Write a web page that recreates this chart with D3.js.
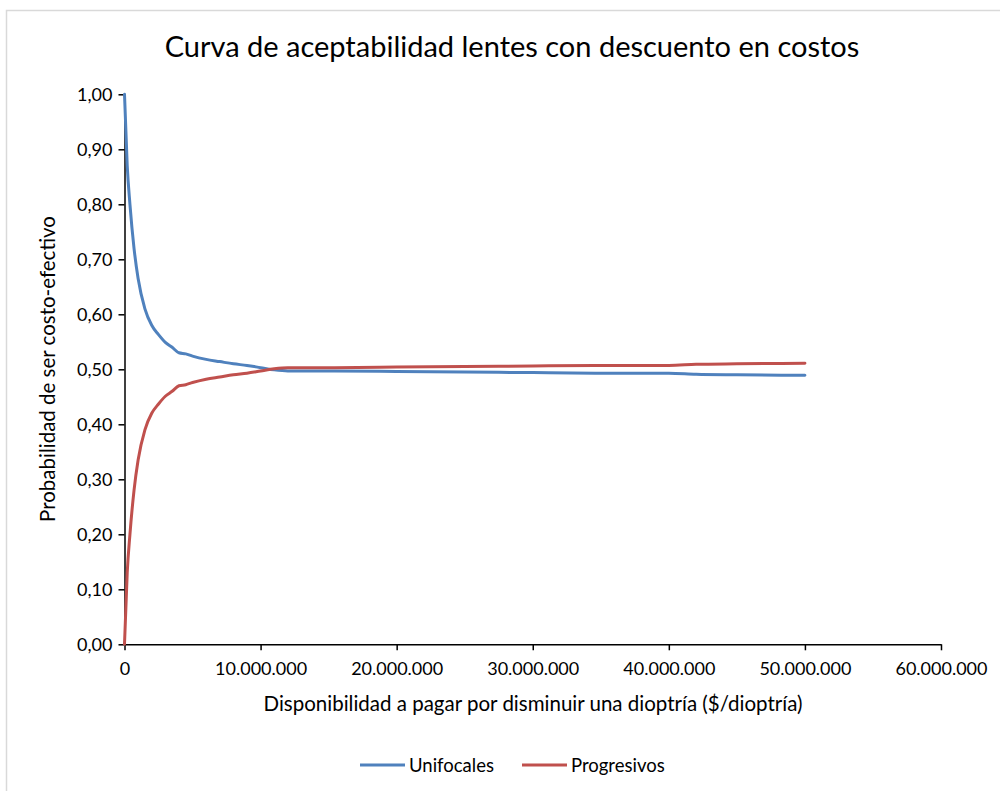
<!DOCTYPE html>
<html>
<head>
<meta charset="utf-8">
<script src="https://cdn.jsdelivr.net/npm/d3@7"></script>
<style>
  body { margin: 0; background: #fff; }
  text { font-family: Lato, "Open Sans", sans-serif; fill: #000; }
</style>
</head>
<body>
<svg id="chart" width="1000" height="791"></svg>
<script>
// datos (disponibilidad a pagar en $/dioptría)
var wtp = [0, 200000, 400000, 700000, 1000000, 1500000, 2000000, 2500000, 3000000, 3500000,
           4000000, 4500000, 5000000, 6000000, 7000000, 8000000, 9000000, 10000000, 11000000,
           12000000, 15000000, 20000000, 25000000, 30000000, 35000000, 40000000, 42000000,
           45000000, 50000000];
var unifocales = [1.000, 0.870, 0.800, 0.720, 0.665, 0.610, 0.580, 0.563, 0.549, 0.540,
                  0.530, 0.528, 0.524, 0.518, 0.514, 0.510, 0.507, 0.503, 0.499,
                  0.497, 0.497, 0.496, 0.495, 0.494, 0.493, 0.493, 0.491,
                  0.490, 0.489];
var progresivos = [0.000, 0.130, 0.200, 0.280, 0.335, 0.390, 0.420, 0.437, 0.451, 0.460,
                   0.470, 0.472, 0.476, 0.482, 0.486, 0.490, 0.493, 0.497, 0.501,
                   0.503, 0.503, 0.504, 0.505, 0.506, 0.507, 0.507, 0.509,
                   0.510, 0.511];
var seriesNames = ['Unifocales', 'Progresivos'];
var seriesColors = ['#4F81BD', '#C0504D'];
var xTicks = [0, 10000000, 20000000, 30000000, 40000000, 50000000, 60000000];
var yTicks = [0, 0.1, 0.2, 0.3, 0.4, 0.5, 0.6, 0.7, 0.8, 0.9, 1.0];

var svg = d3.select('#chart');

// marco del gráfico
svg.append('rect')
    .attr('x', 6.5).attr('y', 10.5)
    .attr('width', 1100).attr('height', 900)
    .attr('fill', '#fff').attr('stroke', '#d9d9d9').attr('stroke-width', 1.5);

var plotLeft = 124.5, plotRight = 941, plotTop = 94.3, plotBottom = 644.3;

var x = d3.scaleLinear().domain([0, 60000000]).range([plotLeft, plotRight]);
var y = d3.scaleLinear().domain([0, 1]).range([plotBottom, plotTop]);

// formato con puntos de miles y coma decimal
var es = d3.formatLocale({decimal: ',', thousands: '.', grouping: [3], currency: ['$', '']});
var fmtX = es.format(',.0f');
var fmtY = es.format('.2f');

// ejes
var gx = svg.append('g')
    .attr('transform', 'translate(0,' + plotBottom + ')')
    .call(d3.axisBottom(x).tickValues(xTicks).tickFormat(fmtX).tickSize(6).tickSizeOuter(0));
var gy = svg.append('g')
    .attr('transform', 'translate(' + plotLeft + ',0)')
    .call(d3.axisLeft(y).tickValues(yTicks).tickFormat(fmtY).tickSize(6).tickSizeOuter(0));

[gx, gy].forEach(function(g) {
    g.select('.domain').attr('stroke', '#000').attr('stroke-width', 1.5);
    g.selectAll('.tick line').attr('stroke', '#000').attr('stroke-width', 1.5);
    g.selectAll('.tick text').style('font-size', '18px').attr('fill', '#000');
});
gx.selectAll('.tick text').attr('dy', '1.2em');
gy.selectAll('.tick text').attr('x', -12);

// líneas
var line = d3.line()
    .x(function(d) { return x(d[0]); })
    .y(function(d) { return y(d[1]); })
    .curve(d3.curveMonotoneX);

[unifocales, progresivos].forEach(function(vals, i) {
    svg.append('path')
        .datum(wtp.map(function(w, j) { return [w, vals[j]]; }))
        .attr('fill', 'none')
        .attr('stroke', seriesColors[i])
        .attr('stroke-width', 3)
        .attr('stroke-linejoin', 'round')
        .attr('stroke-linecap', 'round')
        .attr('d', line);
});

// títulos
svg.append('text')
    .attr('x', 512).attr('y', 57)
    .attr('text-anchor', 'middle')
    .style('font-size', '29px')
    .text('Curva de aceptabilidad lentes con descuento en costos');

svg.append('text')
    .attr('x', 533).attr('y', 711)
    .attr('text-anchor', 'middle')
    .style('font-size', '20.5px')
    .text('Disponibilidad a pagar por disminuir una dioptría ($/dioptría)');

svg.append('text')
    .attr('transform', 'translate(55,369) rotate(-90)')
    .attr('text-anchor', 'middle')
    .style('font-size', '20.5px')
    .text('Probabilidad de ser costo-efectivo');

// leyenda
var legendX = [360, 522];
seriesNames.forEach(function(name, i) {
    var g = svg.append('g').attr('transform', 'translate(' + legendX[i] + ',765)');
    g.append('line')
        .attr('x1', 0).attr('x2', 45).attr('y1', 0).attr('y2', 0)
        .attr('stroke', seriesColors[i]).attr('stroke-width', 3);
    g.append('text')
        .attr('x', 49).attr('y', 6.5)
        .style('font-size', '18.5px')
        .text(name);
});
</script>
</body>
</html>
